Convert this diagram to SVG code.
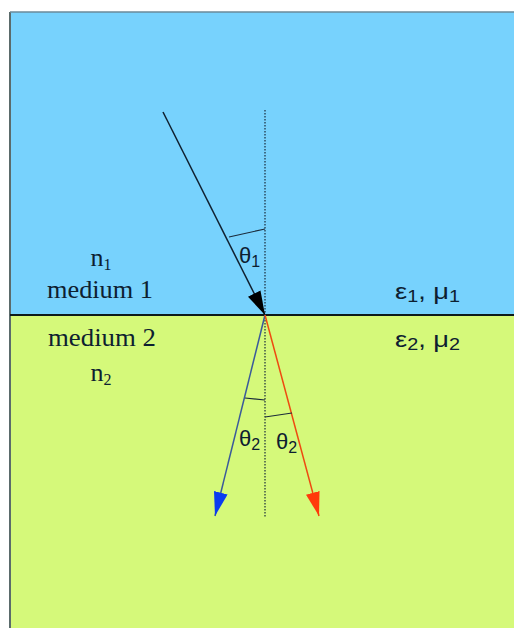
<svg xmlns="http://www.w3.org/2000/svg" width="514" height="628" viewBox="0 0 514 628">
  <style>
    .serif { font-family: "Liberation Serif", "Times New Roman", serif; font-size: 26px; fill: #0d2030; text-anchor: middle; }
    .sans { font-family: "Liberation Sans", Arial, sans-serif; font-size: 22px; fill: #0d2030; }
    .sub { font-size: 16px; }
    .tick { stroke: #1a2a3a; stroke-width: 1.2; fill: none; }
  </style>
  <defs>
    <marker id="ahBlack" markerUnits="userSpaceOnUse" markerWidth="24" markerHeight="14" refX="24" refY="7" orient="auto">
      <path d="M0,0 L24,7 L0,14 z" fill="#000"/>
    </marker>
    <marker id="ahBlue" markerUnits="userSpaceOnUse" markerWidth="24" markerHeight="14" refX="24" refY="7" orient="auto">
      <path d="M0,0 L24,7 L0,14 z" fill="#0a3cf0"/>
    </marker>
    <marker id="ahRed" markerUnits="userSpaceOnUse" markerWidth="24" markerHeight="14" refX="24" refY="7" orient="auto">
      <path d="M0,0 L24,7 L0,14 z" fill="#ff3a0a"/>
    </marker>
  </defs>
  <rect width="514" height="628" fill="#ffffff"/>
  <g id="medium1">
    <rect x="10" y="12" width="504" height="303" fill="#77d2fd"/>
    <text class="serif" x="101" y="266">n<tspan class="sub" dy="4">1</tspan></text>
    <text class="serif" x="100" y="298" textLength="106" lengthAdjust="spacingAndGlyphs">medium 1</text>
    <text class="sans" x="395" y="299" textLength="65" lengthAdjust="spacingAndGlyphs">ε<tspan class="sub" dy="3">1</tspan><tspan dy="-3">, μ</tspan><tspan class="sub" dy="3">1</tspan></text>
  </g>
  <g id="medium2">
    <rect x="10" y="315" width="504" height="313" fill="#d5f97a"/>
    <text class="serif" x="102" y="346" textLength="108" lengthAdjust="spacingAndGlyphs">medium 2</text>
    <text class="serif" x="101" y="381">n<tspan class="sub" dy="4">2</tspan></text>
    <text class="sans" x="395" y="347" textLength="65" lengthAdjust="spacingAndGlyphs">ε<tspan class="sub" dy="3">2</tspan><tspan dy="-3">, μ</tspan><tspan class="sub" dy="3">2</tspan></text>
  </g>
  <g id="frame">
    <line x1="10" y1="12" x2="10" y2="628" stroke="#5b6b6b" stroke-width="2"/>
    <line x1="10" y1="12" x2="514" y2="12" stroke="#6a8a9a" stroke-width="1.5"/>
    <line x1="10" y1="315" x2="514" y2="315" stroke="#0d1a1a" stroke-width="2"/>
  </g>
  <g id="connectors">
    <line x1="265" y1="110" x2="265" y2="518" stroke="#1a2a3a" stroke-width="1.2" stroke-dasharray="1.5,1.5"/>
    <line x1="163" y1="112" x2="265" y2="315" stroke="#102030" stroke-width="1.5" marker-end="url(#ahBlack)"/>
    <line x1="265" y1="315" x2="215" y2="516" stroke="#3a5a9a" stroke-width="1.5" marker-end="url(#ahBlue)"/>
    <line x1="265" y1="315" x2="319" y2="516" stroke="#ee4a10" stroke-width="1.5" marker-end="url(#ahRed)"/>
  </g>
  <g id="angles">
    <line class="tick" x1="229" y1="237" x2="265" y2="229"/>
    <text class="sans" x="239" y="263">θ<tspan class="sub" dy="4">1</tspan></text>
    <line class="tick" x1="245" y1="398" x2="265" y2="400"/>
    <text class="sans" x="239" y="446">θ<tspan class="sub" dy="4">2</tspan></text>
    <line class="tick" x1="265" y1="417" x2="292" y2="413"/>
    <text class="sans" x="276" y="449">θ<tspan class="sub" dy="4">2</tspan></text>
  </g>
</svg>
